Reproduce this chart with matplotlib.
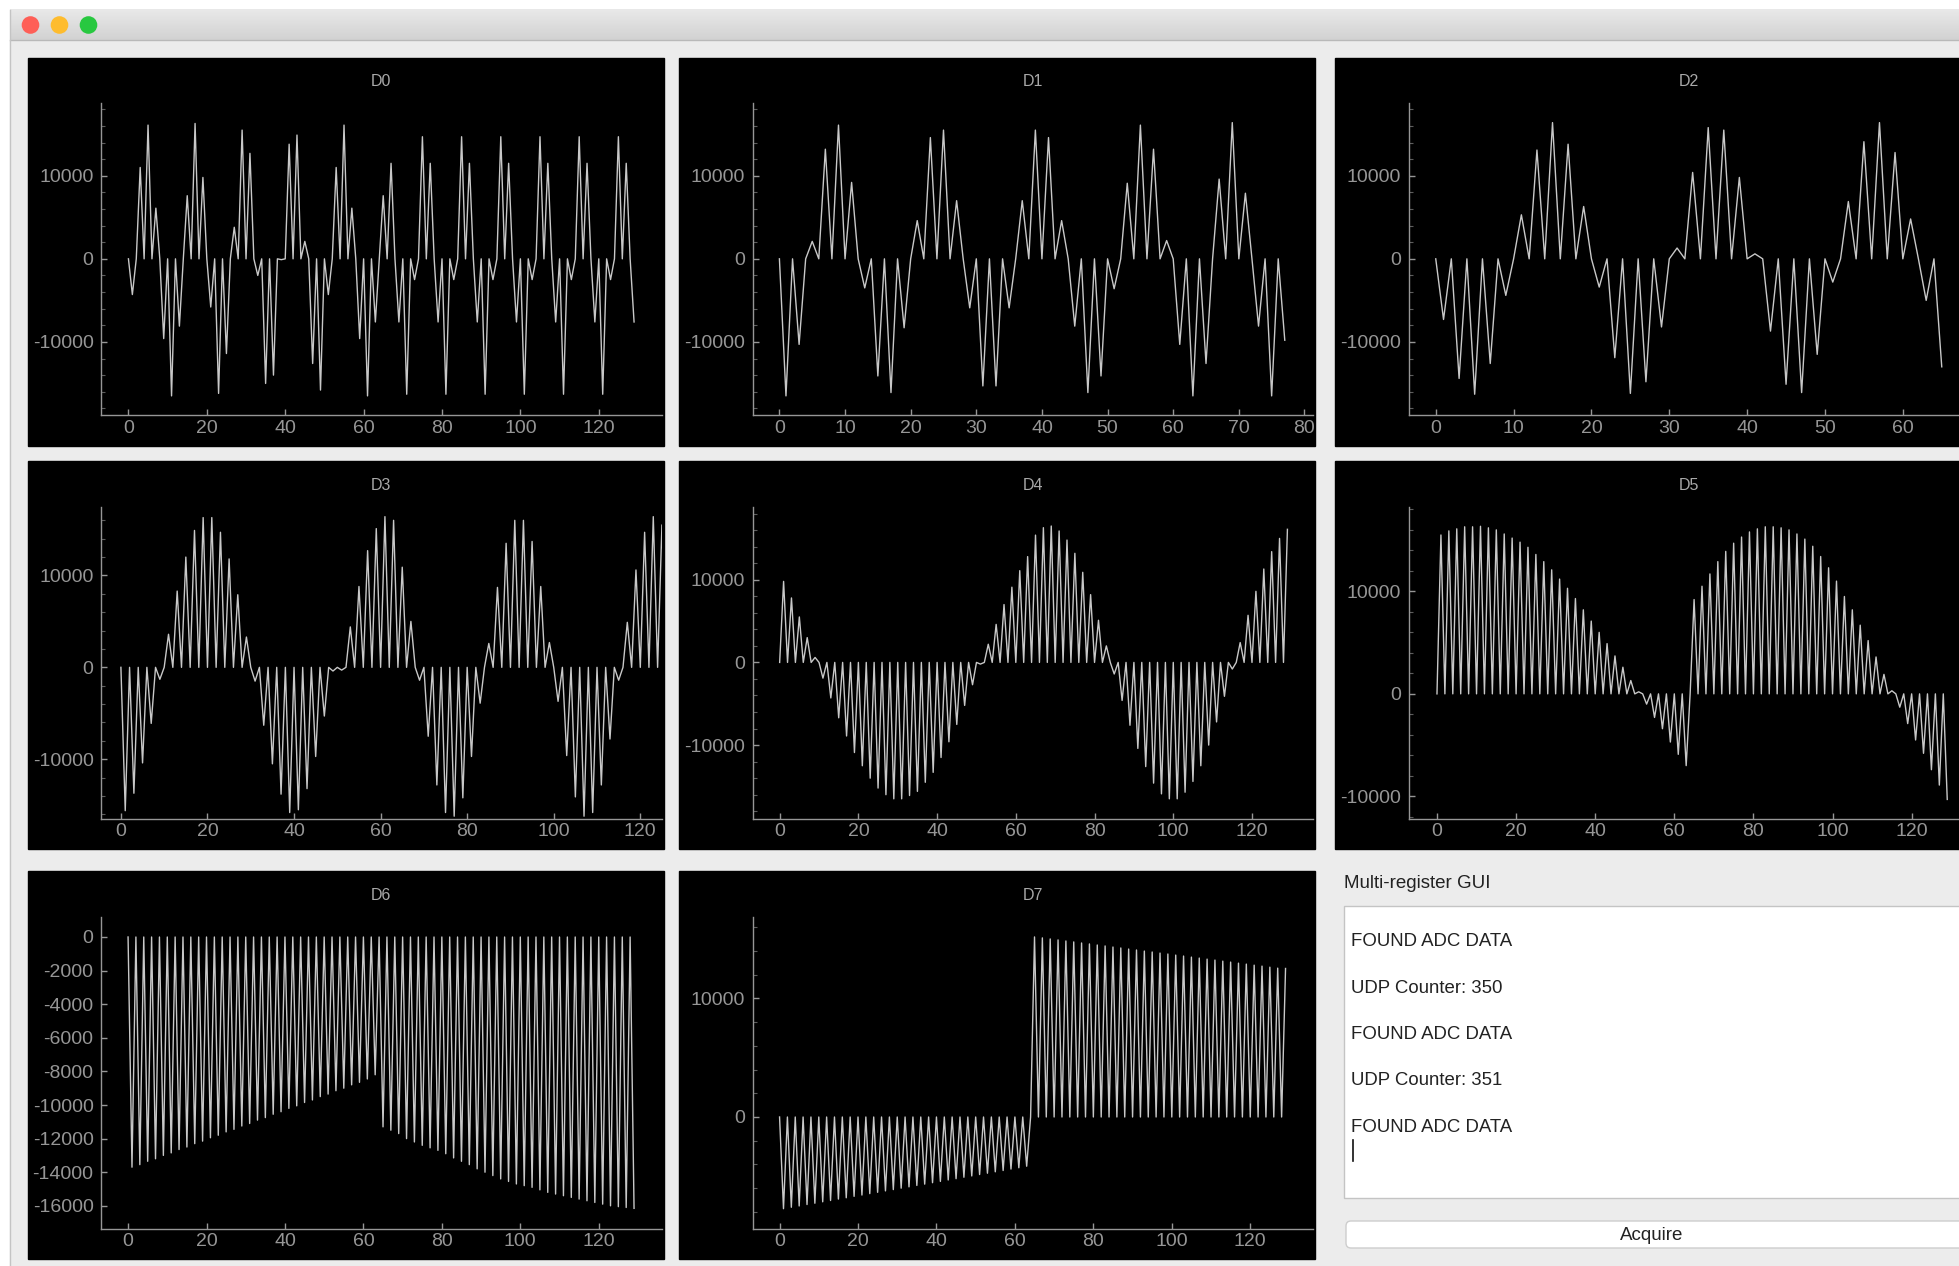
import numpy as np
import matplotlib

matplotlib.use("Agg")
import matplotlib.pyplot as plt
from matplotlib.patches import Rectangle, Circle, FancyBboxPatch

W, H = 1959, 1266
FONT = "Liberation Sans"

LINE_COLOR = "#c8c8c8"
AXIS_COLOR = "#969696"
WINDOW_BG = "#ececec"

# Values. Every channel alternates: the even samples
# all sit on 0, so only the odd samples (n = 1, 3, 5, ...) are listed here.
D0_ODD = [
    -4300, 11000, 16100, 6100, -9600, -16500, -8100, 7600, 16300, 9800,
    -5800, -16200, -11400, 3800, 15500, 12700, -2000, -15000, -14000, -100,
    13800, 14900, 2100, -12600, -15800, -4300, 11000, 16100, 6100, -9600,
    -16500, -7600, 7600, 11500, -7600, -16300, -2500, 14700, 11500, -7600,
    -16300, -2500, 14700, 11500, -7600, -16300, -2500, 14700, 11500, -7600,
    -16300, -2500, 14700, 11500, -7600, -16300, -2500, 14700, 11500, -7600,
    -16300, -2500, 14700, 11500, -7600,
]
D1_ODD = [
    -16500, -10300, 2100, 13200, 16100, 9200, -3500, -14100, -16100, -8300,
    4600, 14600, 15500, 7000, -5900, -15300, -15300, -5900, 7000, 15500,
    14600, 4600, -8100, -16100, -14100, -3600, 9100, 16100, 13200, 2200,
    -10300, -16500, -12600, 9600, 16400, 7900, -8100, -16500, -9800,
]
D2_ODD = [
    -7300, -14400, -16300, -12600, -4400, 5300, 13100, 16400, 13800, 6300,
    -3400, -11900, -16200, -14800, -8200, 1300, 10400, 15800, 15500, 9800,
    600, -8700, -15100, -16100, -11500, -2800, 6900, 14100, 16400, 12800,
    4800, -5000, -13000,
]
D3_ODD = [
    -15600, -13700, -10400, -6100, -1300, 3600, 8300, 12000, 14900, 16300,
    16300, 14700, 11800, 7900, 3300, -1500, -6300, -10500, -13800, -15800,
    -15500, -13200, -9700, -5300, -400, -300, 4400, 8800, 12700, 15100,
    16400, 16000, 10900, 5000, -1400, -7500, -12800, -15800, -16200, -14200,
    -9700, -3900, 2600, 8700, 13500, 16000, 16000, 13700, 8800, 2700,
    -3700, -9600, -14100, -16200, -15800, -12800, -7800, -1400, 4900, 10600,
    14700, 16400, 15500, 12000, 7000,
]
D4_ODD = [
    9800, 7800, 5500, 3000, 600, -1900, -4300, -6700, -8900, -10900,
    -12500, -14000, -15200, -16000, -16500, -16500, -16100, -15600, -14500, -13300,
    -11500, -9600, -7500, -5200, -2700, -200, 2200, 4600, 7000, 9100,
    11100, 12800, 15400, 16300, 16500, 15900, 14800, 13200, 10900, 8200,
    5100, 2000, -1400, -4600, -7600, -10400, -12600, -14600, -15900, -16500,
    -16500, -15700, -14400, -12500, -10000, -7200, -4100, -800, 2400, 5700,
    8600, 11300, 13400, 15000, 16100,
]
D5_ODD = [
    15500, 15900, 16100, 16300, 16300, 16350, 16200, 16000, 15600, 15200,
    14800, 14300, 13600, 12900, 12100, 11200, 10300, 9300, 8200, 7100,
    6000, 4900, 3700, 2600, 1300, 200, -1000, -2300, -3400, -4700,
    -5900, -7000, 9200, 10500, 11700, 12900, 13900, 14700, 15300, 15800,
    16100, 16300, 16300, 16200, 16000, 15600, 15100, 14400, 13400, 12300,
    11000, 9500, 8200, 6700, 5200, 3600, 1900, 300, -1300, -2900,
    -4500, -5800, -7400, -8900, -10300,
]
D6_ODD = [
    -13700, -13550, -13350, -13200, -13000, -12850, -12650, -12500, -12300, -12150,
    -11950, -11800, -11600, -11450, -11250, -11100, -10900, -10750, -10550, -10400,
    -10200, -10050, -9850, -9700, -9500, -9350, -9150, -9000, -8800, -8650,
    -8450, -8200, -11300, -11500, -11700, -12000, -12200, -12400, -12550, -12700,
    -12900, -13150, -13350, -13550, -13800, -14000, -14200, -14400, -14550, -14700,
    -14800, -14900, -15050, -15200, -15300, -15400, -15500, -15600, -15700, -15800,
    -15900, -16000, -16050, -16100, -16150,
]
D7_ODD = [
    -7730, -7610, -7500, -7380, -7270, -7150, -7040, -6920, -6810, -6690,
    -6580, -6460, -6350, -6230, -6120, -6000, -5890, -5770, -5660, -5540,
    -5430, -5310, -5200, -5080, -4970, -4850, -4740, -4620, -4510, -4390,
    -4280, -4150, 15180, 15100, 15010, 14930, 14840, 14760, 14670, 14590,
    14500, 14420, 14330, 14250, 14160, 14080, 13990, 13910, 13820, 13740,
    13650, 13570, 13480, 13400, 13310, 13230, 13140, 13060, 12970, 12890,
    12800, 12720, 12630, 12550, 12520,
]

LOG_LINES = [
    "FOUND ADC DATA",
    "UDP Counter: 350",
    "FOUND ADC DATA",
    "UDP Counter: 351",
    "FOUND ADC DATA",
]

# name, odd samples, column, row, xlim, ylim, x step, y step
CHANNELS = [
    ("D0", D0_ODD, 0, 0, (-7.0, 136.0), (-18800, 18700), 20, 10000),
    ("D1", D1_ODD, 1, 0, (-4.1, 81.3), (-18800, 18700), 10, 10000),
    ("D2", D2_ODD, 2, 0, (-3.5, 68.5), (-18800, 18700), 10, 10000),
    ("D3", D3_ODD, 0, 1, (-4.6, 124.9), (-16450, 17450), 20, 10000),
    ("D4", D4_ODD, 1, 1, (-6.9, 135.5), (-18880, 18800), 20, 10000),
    ("D5", D5_ODD, 2, 1, (-7.2, 134.5), (-12160, 18230), 20, 10000),
    ("D6", D6_ODD, 0, 2, (-6.9, 136.0), (-17350, 1190), 20, 2000),
    ("D7", D7_ODD, 1, 2, (-6.9, 136.0), (-9400, 16860), 20, 10000),
]

# layout, in pixels of the 1959x1266 screenshot
PANEL_X = [27.5, 679.0, 1335.0]
PANEL_Y = [57.5, 461.0, 871.0]
PANEL_W, PANEL_H = 636, 388
AX_LEFT, AX_RIGHT = 73.5, 634.0
AX_TOP, AX_BOTTOM = 46.0, 357.5


def fig_rect(x0, y0, x1, y1):
    """Pixel box (top-left origin) -> figure fraction rect."""
    return [x0 / W, 1 - y1 / H, (x1 - x0) / W, (y1 - y0) / H]


def interleave(odd):
    """Even samples are 0, odd samples come from the list."""
    y = np.zeros(2 * len(odd))
    y[1::2] = odd
    return y


def draw_window(bg):
    bg.add_patch(Rectangle((0, 0), W, H, color="white", zorder=0))
    bg.add_patch(Rectangle((10, 40), W, H, color=WINDOW_BG, zorder=1))
    grad = np.linspace(0, 1, 50).reshape(-1, 1)
    bar_cmap = matplotlib.colors.LinearSegmentedColormap.from_list(
        "bar", ["#e9e9e9", "#d2d2d2"])
    bg.imshow(grad, extent=(10, W, 40, 9.5), cmap=bar_cmap, aspect="auto", zorder=1)
    bg.plot([10, W], [40, 40], color="#b9b9b9", lw=1, zorder=2)
    bg.plot([10, 10], [9.5, H], color="#c4c4c4", lw=1, zorder=2)
    for cx, col in zip([30.5, 59.5, 88.5], ["#fe5f57", "#febc2e", "#28c840"]):
        bg.add_patch(Circle((cx, 25), 8.8, facecolor=col, edgecolor="none", zorder=3))


def draw_log_area(bg):
    bg.text(1344, 884, "Multi-register GUI", fontsize=13.5, family=FONT,
            color="#222222", ha="left", va="center", zorder=3)
    bg.add_patch(Rectangle((1344, 906), 640, 292, facecolor="white",
                           edgecolor="#c4c4c4", lw=1, zorder=2))
    for i, line in enumerate(LOG_LINES):
        bg.text(1351, 942 + i * 46.3, line, fontsize=13.4, family=FONT,
                color="#222222", ha="left", va="center", zorder=3)
    bg.plot([1352.5, 1352.5], [1140, 1161], color="#111111", lw=1.2, zorder=3)
    bg.add_patch(FancyBboxPatch((1346, 1221), 640, 27,
                                boxstyle="round,pad=0,rounding_size=5",
                                facecolor="white", edgecolor="#cdcdcd", lw=1, zorder=2))
    bg.text(1652, 1235, "Acquire", fontsize=13.5, family=FONT,
            color="#222222", ha="center", va="center", zorder=3)


def draw_channel(fig, bg, name, odd, col, row, xlim, ylim, xstep, ystep):
    px, py = PANEL_X[col], PANEL_Y[row]
    bg.add_patch(Rectangle((px, py), PANEL_W, PANEL_H, color="black", zorder=2))
    x0, x1 = px + AX_LEFT, px + AX_RIGHT
    y0, y1 = py + AX_TOP, py + AX_BOTTOM
    bg.text((x0 + x1) / 2, py + 24, name, fontsize=11.5, family=FONT,
            color="#a8a8a8", ha="center", va="center", zorder=3)

    ax = fig.add_axes(fig_rect(x0, y0, x1, y1), zorder=2)
    ax.set_facecolor("black")
    values = interleave(odd)
    ax.plot(np.arange(len(values)), values, color=LINE_COLOR, lw=1.0)
    ax.set_xlim(*xlim)
    ax.set_ylim(*ylim)

    ax.set_xticks(np.arange(0, xlim[1], xstep))
    yt = np.arange(np.ceil(ylim[0] / ystep) * ystep, ylim[1], ystep)
    ax.set_yticks(yt)
    ax.set_yticklabels([f"{int(round(v))}" for v in yt])
    if ystep == 10000:
        ax.set_yticks(np.arange(np.ceil(ylim[0] / 2000) * 2000, ylim[1], 2000), minor=True)
        ax.tick_params(axis="y", which="minor", direction="in", length=3,
                       color="#5c5c5c", width=0.8)

    for side in ("top", "right"):
        ax.spines[side].set_visible(False)
    for side in ("left", "bottom"):
        ax.spines[side].set_color(AXIS_COLOR)
        ax.spines[side].set_linewidth(1.0)
    ax.tick_params(axis="both", which="major", direction="in", length=4.5,
                   color=AXIS_COLOR, labelcolor=AXIS_COLOR, labelsize=14, width=1.0)
    ax.tick_params(axis="x", pad=3.5)
    ax.tick_params(axis="y", pad=5.4)
    for lab in ax.get_xticklabels() + ax.get_yticklabels():
        lab.set_family(FONT)


def main():
    fig = plt.figure(figsize=(W / 100, H / 100), dpi=100)
    bg = fig.add_axes([0, 0, 1, 1], zorder=0)
    bg.axis("off")

    draw_window(bg)
    for name, odd, col, row, xlim, ylim, xstep, ystep in CHANNELS:
        draw_channel(fig, bg, name, odd, col, row, xlim, ylim, xstep, ystep)
    draw_log_area(bg)

    bg.set_xlim(0, W)
    bg.set_ylim(H, 0)
    fig.savefig("out.png", dpi=100)
    plt.close(fig)


if __name__ == "__main__":
    main()
